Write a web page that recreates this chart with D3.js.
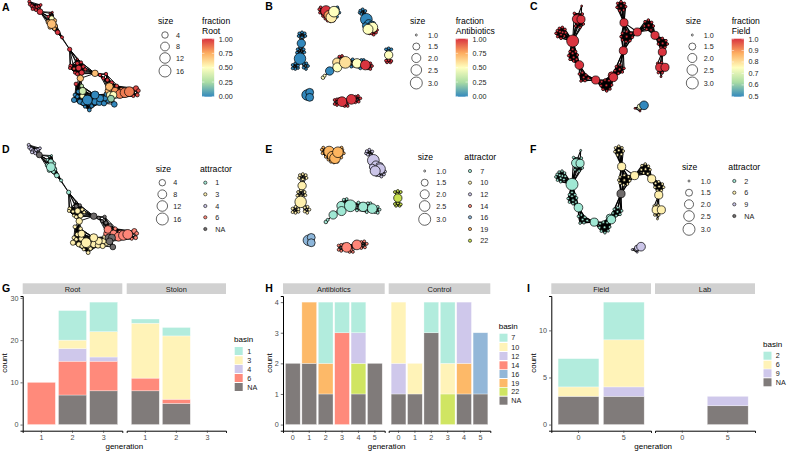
<!DOCTYPE html>
<html><head><meta charset="utf-8">
<script src="https://cdn.jsdelivr.net/npm/d3@7"></script>
<style>html,body{margin:0;background:#fff}svg{display:block}text{font-family:"Liberation Sans",Arial,sans-serif}</style>
</head><body><div id="c"></div>
<script>
// ---------- network A / D: [group, x, y, size, fraction, attractor]
const nodesA = [
["a",88,5,1.2,1,4],["a",90,13,1.3,1,4],["a",96,18,1.5,1,4],["a",101,23,1.5,1,4],["a",106,26,1.3,1,4],["a",111,20,1.3,1,4],["a",117,18,1.2,1,4],["a",122,15,1.1,1,4],["a",98,27,1.2,1,4],["a",108,30,1.2,1,4],
["b",120,35,3.2,1,null],
["c",150,40,1,1,1],["c",145,50,1.1,1,1],["c",157,37,1,1,1],["c",145,66,2,.72,1],["c",163,62,2,.72,1],["c",155,55,2.4,.5,1],["c",166,78,2,.72,1],["c",150,82,1.5,.72,1],["c",163,86,1.5,.72,1],["c",155,72,8,.7,1],
["d",173,97,2.2,1,1],["e",186,112,1.2,1,1],["f",209,148,1.8,1,1],
["m",232,178,1,1,null],["m",232,190,1.5,1,null],["m",243,187,1.2,1,null],["m",212,198,1.5,1,3],["m",210,204,1.2,1,3],["m",222,206,1.3,.95,3],["m",250,200,1.4,1,3],["m",256,208,1.2,1,3],["m",225,218,1.2,1,3],["m",232,222,1.5,1,3],["m",245,218,2.5,1,3],["m",236,204,3,1,3],
["h",285,220,4,.7,null],["k",241,235,4,.7,3],
["n",300,225,1.3,1,null],["n",318,222,1.3,1,null],["n",310,235,1.2,1,null],["n",322,240,1.5,1,null],["n",335,248,1.5,1,null],["n",350,258,1.5,.95,6],
["y",228,252,1.5,1,3],["y",245,258,1.5,.3,3],["y",235,275,1.8,0,3],["y",225,285,1.5,0,3],["y",232,290,1.5,0,3],["y",222,300,2.5,0,3],["y",240,305,2.5,0,3],["y",247,288,2.5,.5,3],["y",248,273,5,.35,3],
["z",250,310,2,0,3],["z",268,308,3,0,3],["z",285,305,4,0,3],["z",298,308,3,0,3],["z",312,310,2.5,0,3],["z",325,300,3,0,3],["z",335,292,2,0,3],["z",268,330,1.5,0,3],["z",275,318,1.5,0,3],["z",255,320,1.2,0,3],["z",315,295,2.5,0,3],["z",300,295,5,0,3],["z",285,285,6.4,0,3],["z",262,300,10,0,3],["z",320,282,2.5,0,3],["z",343,313,3,0,null],
["w",408,265,2.5,.95,6],["w",415,272,1.5,.95,6],["w",412,285,1.5,.95,6],["w",400,288,1.2,.95,6],["w",365,270,2.5,.85,6],["w",325,272,4,.72,6],["w",328,260,6,.72,6],["w",345,272,4.5,.8,6],["w",360,282,8,.85,6],["w",375,278,10,.85,6],["w",388,275,10,.85,6],
["v",330,285,5,.5,null],["v",340,285,5,.5,null],["v",333,296,4.5,.2,null]
];
const linksA = [["a","b"],["b","c"],["c","d"],["d","e"],["c","e"],["e","f"],["d","f"],["e","m"],["f","m"],["m","k"],["m","h"],["h","k"],["h","n"],["n","w"],["k","y"],["y","z"],["z","v"],["w","v"]];

// ---------- network B / E
const hubsB = [
["p",192,33,2.5,1,19],["p",200,46,2.1,.8,19],["p",208,52,2.5,.55,19],["p",216,35,2.5,.5,19],
["q2",313,58,2.9,0,12],["q3",320,72,1.9,0,12],["q3",330,75,1.7,0,12],["q3",310,77,1.3,0,12],["q4",332,82,2.3,.5,12],["q4",318,88,2.3,.5,12],
["l2",118,130,1.8,0,10],["l4",114,176,2.8,0,10],
["r0",183,233,1.05,.5,7],["r0",188,227,1.02,.5,7],["r1",203,213,1.8,0,7],["r5",225,187,1.9,.6,7],["r5",226,202,2,.5,7],["r6",250,187,2.9,.6,7],["r7",285,190,2.1,.5,7],["r8",310,195,2.2,1,7],
["s0",380,165,1.8,.5,22],
["t",135,285,2.4,0,16],["t",143,277,1.7,0,16],["t",143,292,1.7,0,16],
["u0",240,305,2.2,1,14],["u0",268,298,2.2,1,14]
];
// tiny nodes: [group, fraction, attractor, x,y pairs]
const tinyB = [
["p1",1,19,[172,28,176,22,180,36,174,38,183,48,190,56,197,62,205,64,215,62]],["p2",0,19,[228,28,232,38,226,22,225,50]],
["q1",0,12,[295,32,302,28,310,33,298,42,306,44,293,38]],["q5",1,12,[328,100,336,95,342,98,335,104,322,100,345,90]],
["l1",0,10,[112,100,120,97,128,100,110,108,120,112,130,108]],["l3",0,10,[107,148,115,143,125,148,105,158,115,160,127,157]],["l5",0,10,[92,195,100,190,108,197,92,205,100,207,108,204]],["l6",0,10,[125,192,133,190,138,198,125,203,132,207]],
["r2",1,7,[232,170,240,168,228,178,245,178,238,182]],["r3",0,7,[262,182,272,178,298,180,305,180,268,200,295,205]],["r4",1,7,[325,190,330,198,325,207,318,205]],
["s1",0,22,[372,148,380,145,388,148,378,153]],["s2",1,22,[372,182,380,180,388,183,375,187,385,187]],
["u1",1,14,[218,300,225,298,218,312,225,315,232,297]],["u2",1,14,[280,290,288,288,295,295,290,305,280,307]],["u3",1,14,[253,312,257,318,248,318]]
];
const linksB = [["p1","p"],["p2","p"],["q1","q2"],["q2","q3"],["q3","q4"],["q4","q5"],["l1","l2"],["l2","l3"],["l3","l4"],["l4","l5"],["l4","l6"],["r0","r1"],["r1","r5"],["r5","r2"],["r2","r6"],["r5","r6"],["r6","r3"],["r3","r7"],["r6","r7"],["r7","r8"],["r8","r4"],["s1","s0"],["s0","s2"],["u1","u0"],["u0","u2"],["u0","u3"]];

// ---------- network C / F
const hubsC = [
["i0",170,18,1,1,2],["i1",155,57,1.9,1,2],["i1",168,58,1.75,1,2],["h1",143,123,3,1,2],["h4",163,195,1.9,1,2],["h5",212,240,1.75,1,2],["h6",260,226,1.5,1,2],["h6",265,232,1.9,1,2],["h7",295,152,1.75,1,null],
["h8",297,68,1.75,1,6],["h9",337,96,1.75,1,6],["h10",390,106,1.75,1,6],["h11",412,156,1.75,1,6],["h12",404,202,1.75,1,6],["h12",420,202,1.75,1,6],["i9",408,230,1,1,6],
["x1",330,325,1,1,9],["x1",345,333,1,1,9],["x2",345,320,1.25,.72,9],["x3",357,316,1.9,.5,9]
];
const tinyC = [
["c1",1,2,[97,92,103,85,112,82,120,88,122,98,118,108,108,115,98,110,93,100,105,95,113,97,108,104]],
["c2",1,2,[135,155,143,148,152,155,157,165,155,178,146,183,135,178,131,167,143,160,146,172]],
["c3",1,2,[163,222,172,218,183,225,190,235,180,242,168,243,176,232]],
["c4",1,2,[230,245,240,240,252,242,260,255,255,267,245,273,234,268,228,257,244,256]],
["c5",1,2,[274,200,285,195,297,205,292,216,280,220,270,212,284,208]],
["c6",1,6,[292,100,305,95,318,100,322,112,315,122,303,125,292,120,288,110,305,110]],
["c7",1,6,[278,10,288,5,298,10,302,20,296,30,284,32,276,22,288,18]],
["c8",1,6,[360,65,370,60,380,67,385,78,378,90,365,88,358,78,371,76]],
["c9",1,6,[402,120,412,115,423,122,427,132,420,142,408,142,400,132,413,130]],
["c10",1,2,[148,40,158,45,172,42,152,78,165,82,175,72,158,70]],
["c11",1,6,[398,190,410,188,400,218,412,218]]
];
const linksC = [["c1","h1"],["h1","c2"],["c2","h4"],["h1","c10"],["c10","i1"],["i1","i0"],["h4","c3"],["c3","h5"],["h5","c4"],["c4","h6"],["h6","c5"],["c5","h7"],["h7","c6"],["c6","h8"],["c6","h9"],["h8","c7"],["h8","h9"],["h9","c8"],["c8","h10"],["h10","c9"],["c9","h11"],["h11","c11"],["c11","h12"],["h12","i9"],["x1","x2"],["x2","x3"],["x1","x3"]];

// ---------- bars: [facet, generation, basin, count]
const barsG = [["Root","1","6",10],["Root","2","NA",7],["Root","2","6",8],["Root","2","4",3],["Root","2","3",2],["Root","2","1",7],["Root","3","NA",8],["Root","3","6",7],["Root","3","4",1],["Root","3","3",6],["Root","3","1",7],["Stolon","1","NA",8],["Stolon","1","6",3],["Stolon","1","3",13],["Stolon","1","1",1],["Stolon","2","NA",5],["Stolon","2","6",1],["Stolon","2","3",15],["Stolon","2","1",2]];
const barsH = [["Antibiotics","0","NA",2],["Antibiotics","1","NA",2],["Antibiotics","1","19",2],["Antibiotics","2","NA",1],["Antibiotics","2","19",1],["Antibiotics","2","7",2],["Antibiotics","3","14",3],["Antibiotics","3","7",1],["Antibiotics","4","NA",1],["Antibiotics","4","22",1],["Antibiotics","4","12",1],["Antibiotics","4","7",1],["Antibiotics","5","NA",2],["Control","0","NA",1],["Control","0","12",1],["Control","0","10",2],["Control","1","NA",1],["Control","1","10",1],["Control","2","NA",3],["Control","2","7",1],["Control","3","22",1],["Control","3","10",1],["Control","3","7",2],["Control","4","NA",1],["Control","4","19",1],["Control","4","12",2],["Control","5","NA",1],["Control","5","16",2]];
const barsI = [["Field","0","NA",3],["Field","0","6",1],["Field","0","2",3],["Field","5","NA",3],["Field","5","9",1],["Field","5","6",5],["Field","5","2",4],["Lab","5","NA",2],["Lab","5","9",1]];
const gensG = ["1","2","3"], gensH = ["0","1","2","3","4","5"], gensI = ["0","5"];
const facetsG = ["Root","Stolon"], facetsH = ["Antibiotics","Control"], facetsI = ["Field","Lab"];
const basinsG = ["1","3","4","6","NA"], basinsH = ["7","10","12","14","16","19","22","NA"], basinsI = ["2","6","9","NA"];
const basinColor = {teal:"#B2ECDD",yellow:"#FFF3B8",purple:"#CFC8EB",red:"#FF8A7B",blue:"#93B7D8",orange:"#FDB968",green:"#D0E562",na:"#807B7A"};
const colG = {"1":"teal","3":"yellow","4":"purple","6":"red","NA":"na"};
const colH = {"7":"teal","10":"yellow","12":"purple","14":"red","16":"blue","19":"orange","22":"green","NA":"na"};
const colI = {"2":"teal","6":"yellow","9":"purple","NA":"na"};
const attrColorsD = {1:"#A0E8D4",3:"#FFF0AE",4:"#CBC5E8",6:"#FF8678"};
const attrColorsE = {7:"#A0E8D4",10:"#FFF0AE",12:"#CBC5E8",14:"#FF8678",16:"#8DB6DA",19:"#FDB55F",22:"#C8E050"};
const attrColorsF = {2:"#A0E8D4",6:"#FFF0AE",9:"#CBC5E8"};
const naColor = "#6F6B6B";
const spectral = ["#3288BD","#ABDDA4","#FFFFBF","#FDAE61","#D9343F"];

const W=787,H=452;
const svg=d3.select("#c").append("svg").attr("width",W).attr("height",H).attr("viewBox",[0,0,W,H]);
const defs=svg.append("defs");
function label(x,y,t,size,opt={}){
  return svg.append("text").attr("x",x).attr("y",y).text(t).attr("font-size",size)
    .attr("fill",opt.fill||"#000").attr("font-weight",opt.bold?"bold":null)
    .attr("text-anchor",opt.anchor||"start").attr("dominant-baseline",opt.base||"central");
}
function expand(rows,tiny,tinySize){
  const out=rows.map(r=>({g:r[0],x:r[1],y:r[2],s:r[3],f:r[4],a:r[5]}));
  (tiny||[]).forEach(t=>{ for(let i=0;i<t[3].length;i+=2) out.unshift({g:t[0],x:t[3][i],y:t[3][i+1],s:tinySize,f:t[1],a:t[2]}); });
  return out;
}
function edges(nodes,links,reach,cross){
  const byG=d3.group(nodes,d=>d.g), e=[];
  const dist=(p,q)=>Math.hypot(p.x-q.x,p.y-q.y);
  byG.forEach(list=>{ for(let i=0;i<list.length;i++) for(let j=i+1;j<list.length;j++)
    if(dist(list[i],list[j])<reach) e.push([list[i],list[j]]); });
  links.forEach(([a,b])=>{ (byG.get(a)||[]).forEach(p=>(byG.get(b)||[]).forEach(q=>{ if(dist(p,q)<cross) e.push([p,q]); })); });
  return e;
}
function network(nodes,es,xs,ys,rs,fill,edgeW){
  const g=svg.append("g");
  g.append("g").selectAll("line").data(es).join("line")
    .attr("x1",d=>xs(d[0].x)).attr("y1",d=>ys(d[0].y)).attr("x2",d=>xs(d[1].x)).attr("y2",d=>ys(d[1].y))
    .attr("stroke","#000").attr("stroke-width",edgeW);
  g.append("g").selectAll("circle").data(nodes).join("circle")
    .attr("cx",d=>xs(d.x)).attr("cy",d=>ys(d.y)).attr("r",d=>rs(d.s))
    .attr("fill",fill).attr("stroke","#000").attr("stroke-width",.7);
}
function sizeLegend(x,ttlY,cx,lx,vals,ys,rs,fmt){
  label(x,ttlY,"size",8.6);
  vals.forEach((v,i)=>{
    svg.append("circle").attr("cx",cx).attr("cy",ys[i]).attr("r",rs(v)).attr("fill","#fff").attr("stroke","#222").attr("stroke-width",.7);
    label(lx,ys[i],fmt(v),7.2,{fill:"#222"});
  });
}
function colorbar(id,x,title,domain,ticks,fmt){
  label(x,21,"fraction",8.6); label(x,30.5,title,8.6);
  const t0=38.7,t1=96.7,w=12.2;
  const y=d3.scaleLinear().domain(domain).range([96.4,39]);
  const c=d3.scaleLinear().domain(d3.range(5).map(i=>i/4)).range(spectral);
  const grad=defs.append("linearGradient").attr("id",id).attr("x1",0).attr("x2",0).attr("y1",1).attr("y2",0);
  d3.range(21).forEach(i=>grad.append("stop").attr("offset",i/20).attr("stop-color",c(i/20)));
  svg.append("rect").attr("x",x).attr("y",t0).attr("width",w).attr("height",t1-t0).attr("fill",`url(#${id})`);
  ticks.forEach(t=>{
    svg.append("line").attr("x1",x).attr("x2",x+2.4).attr("y1",y(t)).attr("y2",y(t)).attr("stroke","#fff").attr("stroke-width",.5);
    svg.append("line").attr("x1",x+w-2.4).attr("x2",x+w).attr("y1",y(t)).attr("y2",y(t)).attr("stroke","#fff").attr("stroke-width",.5);
    label(x+w+4.6,y(t),fmt(t),7.2,{fill:"#222"});
  });
}
function attrLegend(x,ttlY,cx,lx,names,ys,colors){
  label(x,ttlY,"attractor",8.7);
  names.forEach((n,i)=>{
    svg.append("circle").attr("cx",cx).attr("cy",ys[i]).attr("r",1.6).attr("fill",n==="NA"?naColor:colors[n]).attr("stroke","#222").attr("stroke-width",.7);
    label(lx,ys[i],n,7.2,{fill:"#222"});
  });
}
const fracColor=domain=>{const c=d3.scaleLinear().domain(d3.range(5).map(i=>domain[0]+(domain[1]-domain[0])*i/4)).range(spectral);return d=>c(d.f);};
const attrFill=colors=>d=>d.a===null?naColor:colors[d.a];
function radius(min,max){const s=d3.scaleSqrt().domain([0,max-min]).range([1,6]);return v=>s(Math.max(v-min,0));}

// ---- networks
const A=expand(nodesA), eA=edges(A,linksA,42,68), rA=radius(1,16);
const B=expand(hubsB,tinyB,1.015), eB=edges(B,linksB,30,100), rB=radius(1,3);
const C=expand(hubsC,tinyC,1.008), eC=edges(C,linksC,40,120), rC=radius(1,3);
const u=(o,m)=>d3.scaleLinear().domain([0,300]).range([o,o+100*m]);
network(A,eA,u(0,1),u(0,1),rA,fracColor([0,1]),.9);
network(B,eB,u(262,1),u(0,1),rB,fracColor([0,1]),.8);
network(C,eC,u(525,1),u(0,1),rC,fracColor([.5,1]),1.05);
network(A,eA,u(-.3,.99),u(143.3,.994),rA,attrFill(attrColorsD),.9);
const ex=d3.scaleLinear().domain([115,250]).range([262+117/3,262+265/3]);
const ey=d3.scaleLinear().domain([40,305]).range([140+42/3,140+322/3]);
network(B,eB,ex,ey,rB,attrFill(attrColorsE),.8);
const fx=d3.scaleLinear().domain([143,420]).range([525+141/3,525+409/3]);
const fy=d3.scaleLinear().domain([123,317]).range([140+133/3,140+321/3]);
network(C,eC,fx,fy,rC,attrFill(attrColorsF),1.05);

// ---- legends
const sizesBig=[4,8,12,16], sizesSmall=[1,1.5,2,2.5,3];
const topRows5=[35,46.5,58,70,83], topRows4=[35,46.5,58,71];
sizeLegend(158,21,165,176,sizesBig,topRows4,rA,d3.format("d"));
sizeLegend(410,21,416.3,428,sizesSmall,topRows5,rB,d3.format(".1f"));
sizeLegend(685.7,21,692.3,703.7,sizesSmall,topRows5,rC,d3.format(".1f"));
colorbar("gA",202,"Root",[0,1],[0,.25,.5,.75,1],d3.format(".2f"));
colorbar("gB",455.7,"Antibiotics",[0,1],[0,.25,.5,.75,1],d3.format(".2f"));
colorbar("gC",731.7,"Field",[.5,1],[.5,.6,.7,.8,.9,1],d3.format(".1f"));
sizeLegend(155.7,169,162.3,173.3,sizesBig,[182.7,194.3,206,219],rA,d3.format("d"));
sizeLegend(417.7,157.3,424.7,436.3,sizesSmall,[171,182.7,194.3,206,219.3],rB,d3.format(".1f"));
sizeLegend(682,167.3,689,700.7,sizesSmall,[181,192.7,204.3,216,229.3],rC,d3.format(".1f"));
attrLegend(200,169,205.3,215.3,["1","3","4","6","NA"],[182.7,194.3,206,217.3,229],attrColorsD);
attrLegend(464.3,157.3,470,480.3,["7","10","12","14","16","19","22"],[171,182.7,194.3,206,217.3,229,240.7],attrColorsE);
attrLegend(728.3,167.3,734.3,744.3,["2","6","9","NA"],[181,192.7,204.3,216],attrColorsF);

// ---- bars
function barPanel(rows,facets,gens,basins,cmap,yMax,yTicks,opt){
  const y=d3.scaleLinear().domain([-yMax*.05,yMax*1.05]).range([430.7,296]);
  facets.forEach((f,fi)=>{
    const [x0,x1]=opt.panels[fi];
    svg.append("rect").attr("x",x0).attr("y",283.3).attr("width",x1-x0).attr("height",10.7).attr("fill","#D1D1D1");
    label((x0+x1)/2,289,f,7.4,{anchor:"middle",fill:"#1a1a1a"});
    const x=d3.scaleBand().domain(gens).range([x0,x1]).paddingInner(.1).paddingOuter(.15);
    gens.forEach(g=>{
      let base=0;
      const segs=rows.filter(r=>r[0]===f&&r[1]===g).sort((a,b)=>basins.indexOf(b[2])-basins.indexOf(a[2]));
      segs.forEach(s=>{
        svg.append("rect").attr("x",x(g)).attr("width",x.bandwidth()).attr("y",y(base+s[3])).attr("height",y(base)-y(base+s[3]))
          .attr("fill",basinColor[cmap[s[2]]]).attr("stroke","#fff").attr("stroke-opacity",.55).attr("stroke-width",.6);
        base+=s[3];
      });
    });
    const ax=svg.append("g").attr("transform","translate(0,430.7)").call(d3.axisBottom(x).tickSize(2.2).tickPadding(2));
    ax.select(".domain").attr("stroke","#000").attr("stroke-width",1);
    ax.selectAll("line").attr("stroke","#333").attr("stroke-width",.7);
    ax.selectAll("text").attr("font-size",7.2).attr("fill","#4d4d4d").attr("font-family","Liberation Sans");
  });
  const [x0]=opt.panels[0];
  const ay=svg.append("g").attr("transform",`translate(${x0},0)`).call(d3.axisLeft(y).tickValues(yTicks).tickFormat(d3.format("d")).tickSize(2.2).tickPadding(2));
  ay.select(".domain").attr("stroke","#000").attr("stroke-width",1);
  ay.selectAll("line").attr("stroke","#333").attr("stroke-width",.7);
  ay.selectAll("text").attr("font-size",7.2).attr("fill","#4d4d4d").attr("font-family","Liberation Sans");
  label((opt.panels[0][0]+opt.panels[1][1])/2,446.7,"generation",8,{anchor:"middle"});
  svg.append("text").text("count").attr("font-size",8).attr("text-anchor","middle").attr("dominant-baseline","central")
    .attr("transform",`translate(${opt.yTitleX},363) rotate(-90)`);
  label(opt.legX,opt.legTitleY,"basin",8);
  basins.forEach((b,i)=>{
    const yy=opt.legY[i];
    svg.append("rect").attr("x",opt.legKeyX).attr("y",yy-4).attr("width",8).attr("height",8).attr("fill",basinColor[cmap[b]]);
    label(opt.legLabelX,yy,b,7.2,{fill:"#1a1a1a"});
  });
}
barPanel(barsG,facetsG,gensG,basinsG,colG,29,[0,10,20,30],{panels:[[22.7,122.3],[126.7,226]],yTitleX:4.8,legX:234,legTitleY:339.3,legKeyX:234.7,legLabelX:247.3,legY:[351,360.3,369,378,387]});
barPanel(barsH,facetsH,gensH,basinsH,colH,4,[0,1,2,3,4],{panels:[[283,384.7],[388.7,490.3]],yTitleX:269.3,legX:498.7,legTitleY:326,legKeyX:499.5,legLabelX:511.3,legY:[337.7,347,356,365.3,374,383,391.7,400.7]});
barPanel(barsI,facetsI,gensI,basinsI,colI,13,[0,5,10],{panels:[[551.3,651],[655,755]],yTitleX:533.3,legX:763,legTitleY:344.3,legKeyX:763.5,legLabelX:775.7,legY:[355.7,364.7,373.3,382.3]});

// ---- panel letters
[["A",2,7],["B",265.3,6],["C",530,6],["D",2,149],["E",265.3,149],["F",530,149],["G",2,288],["H",265.3,288],["I",527,288]]
  .forEach(([t,x,y])=>label(x,y,t,10.5,{bold:true}));
</script></body></html>
